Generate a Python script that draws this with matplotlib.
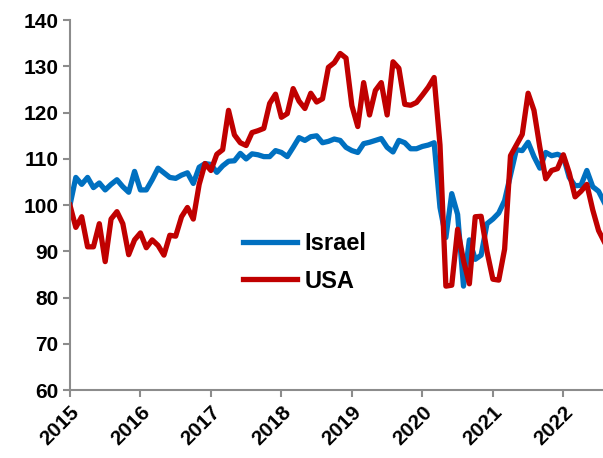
import numpy as np
import matplotlib.pyplot as plt

plt.rcParams['font.family'] = ['Liberation Sans', 'DejaVu Sans']

# monthly index values, Jan 2015 onwards
israel = [100, 106, 104.5, 106, 103.8, 104.8, 103.3, 104.5, 105.5, 104, 102.8, 107.3,
          103.3, 103.3, 105.5, 108, 107, 106, 105.8, 106.5, 107, 104.7, 108.2, 109,
          108.8, 107.1, 108.5, 109.5, 109.6, 111.2, 110, 111.1, 110.9, 110.5, 110.5, 111.8,
          111.4, 110.5, 112.5, 114.6, 114, 114.8, 115, 113.5, 113.8, 114.3, 114, 112.5,
          111.8, 111.4, 113.3, 113.6, 114, 114.4, 112.5, 111.5, 114, 113.5, 112.2, 112.2,
          112.7, 113, 113.5, 99.5, 93, 102.5, 98, 82.5, 92.5, 88.3, 89.2, 96,
          97, 98.3, 101, 106.5, 112, 111.8, 113.6, 110.5, 108, 111.4, 110.7, 111,
          110.5, 106, 104.2, 104.3, 107.5, 104, 103, 100.5]
usa = [100, 95.2, 97.5, 91, 91, 96, 87.8, 97, 98.6, 96, 89.3, 92.5,
       94, 90.8, 92.5, 91.3, 89.2, 93.5, 93.3, 97.5, 99.5, 97, 104.5, 109,
       107.5, 111, 112, 120.5, 115.2, 113.5, 112.9, 115.7, 116.1, 116.6, 122, 124,
       119, 119.8, 125.2, 122.5, 120.9, 124.2, 122.3, 123, 129.8, 130.8, 132.8, 131.8,
       121.5, 117, 126.5, 119.5, 124.8, 126.5, 119.5, 131, 129.6, 121.8, 121.6, 122.2,
       123.8, 125.5, 127.6, 113, 82.5, 82.7, 94.8, 88, 83, 97.5, 97.6, 90,
       84, 83.8, 90.5, 110.7, 113, 115.3, 124.2, 120.5, 112.5, 105.7, 107.5, 107.9,
       110.9, 107, 101.8, 103, 104.5, 99, 94.5, 92]
years = ['2015', '2016', '2017', '2018', '2019', '2020', '2021', '2022']

x = np.arange(len(israel))

fig = plt.figure(figsize=(6.03, 4.58), dpi=100)
ax = fig.add_axes([0.116, 0.148, 0.884, 0.808])

ax.plot(x, israel, color='#0070C0', lw=3.8, label='Israel', solid_joinstyle='round')
ax.plot(x, usa, color='#C00000', lw=3.8, label='USA', solid_joinstyle='round')

ax.set_xlim(0, 90.75)
ax.set_ylim(60, 140)
ax.set_yticks(range(60, 141, 10))
ax.set_xticks(np.arange(len(years)) * 12)
ax.set_xticklabels(years, rotation=45, ha='right', rotation_mode='anchor')

for s in ['top', 'right']:
    ax.spines[s].set_visible(False)
for s in ['left', 'bottom']:
    ax.spines[s].set_color('#8c8c8c')
    ax.spines[s].set_linewidth(1.5)
ax.tick_params(colors='#8c8c8c', width=1.5, length=5, labelcolor='black')
for lab in ax.get_xticklabels() + ax.get_yticklabels():
    lab.set_fontsize(15)
    lab.set_fontweight('bold')

leg = ax.legend(loc='center left', bbox_to_anchor=(0.285, 0.345), frameon=False,
                prop={'size': 17, 'weight': 'bold'}, handlelength=2.3,
                handletextpad=0.3, labelspacing=0.6)

fig.savefig('out.png')
